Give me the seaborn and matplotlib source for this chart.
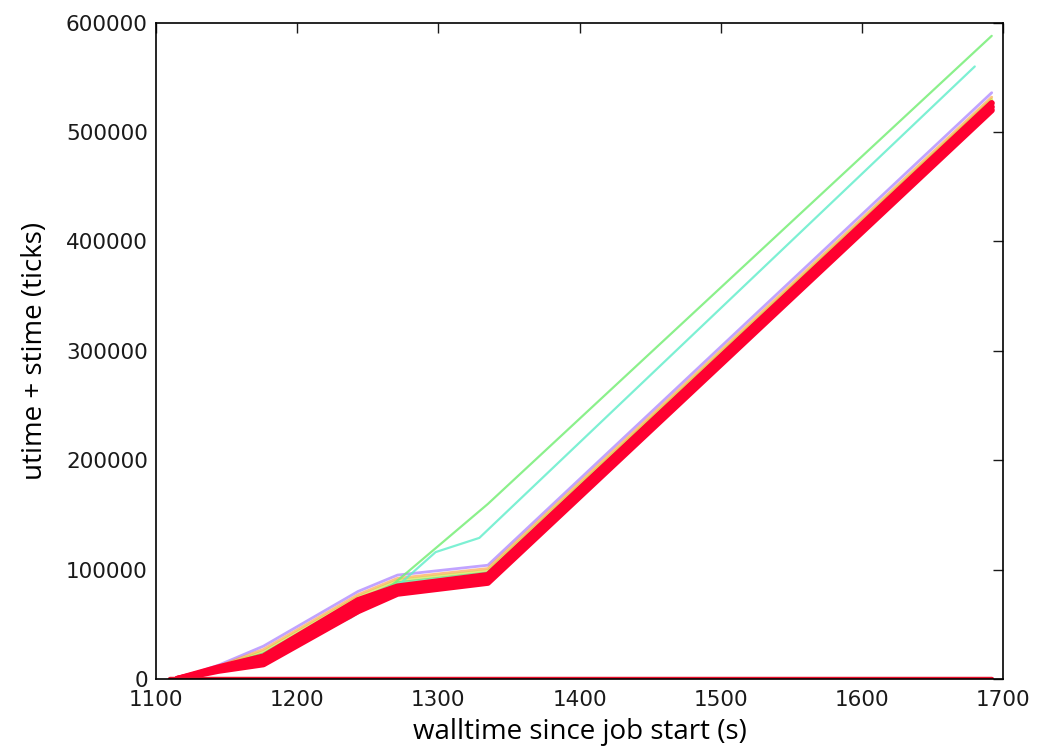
import matplotlib
matplotlib.use("Agg")
import matplotlib.pyplot as plt
import seaborn as sns

# ─────────────────────────────────────────────
# Data
# ─────────────────────────────────────────────

times = [1115, 1144, 1176, 1243, 1271, 1335, 1692]

# ticks per process (utime + stime), one list per traced process
proc_purple = [0, 12500, 30000, 80000, 95000, 104000, 536000]
proc_orange = [0, 11500, 27000, 77000, 92000, 101000, 532000]
proc_yellow = [0, 11000, 25000, 75000, 90000, 99000, 530000]
proc_green  = [0, 10500, 23000, 72000, 88000, 97000, 528000]
proc_blue   = [0, 8000, 15000, 64000, 80000, 90000, 522000]
red_hi      = [0, 10500, 20500, 72000, 84500, 95000, 526500]
red_mid     = [0, 9000, 17000, 67000, 81000, 91000, 523000]
red_lo      = [0, 7500, 13500, 62000, 78000, 88000, 520000]

# the two processes that ran away from the pack
fast_times  = [1115, 1144, 1176, 1243, 1271, 1335, 1692]
fast_green  = [0, 9000, 19000, 60000, 90000, 160000, 588000]
cyan_times  = [1115, 1144, 1176, 1238, 1271, 1298, 1329, 1680]
fast_cyan   = [0, 9000, 18000, 56000, 85000, 116000, 129000, 560000]

# idle processes that never got cpu time
idle_times  = [1110, 1692]
idle_ticks  = [0, 0]

x_ticks = [1100, 1200, 1300, 1400, 1500, 1600, 1700]
y_ticks = [0, 100000, 200000, 300000, 400000, 500000, 600000]

# ─────────────────────────────────────────────
# Plot
# ─────────────────────────────────────────────

sns.set_style("white")
plt.rcParams["font.family"] = ["DejaVu Sans"]

fig = plt.figure(figsize=(10.41, 7.5), dpi=100)
ax = fig.add_axes([0.150, 0.0947, 0.8135, 0.875])

for vals, col in [(proc_blue, "#3344ff"), (proc_purple, "#9966ff"),
                  (proc_orange, "#ff9933"), (proc_yellow, "#ccdd33"),
                  (proc_green, "#33dd77")]:
    sns.lineplot(x=times, y=vals, color=col, lw=2, alpha=0.6, ax=ax)

sns.lineplot(x=fast_times, y=fast_green, color="#77ee77", lw=1.6, alpha=0.85, ax=ax)
sns.lineplot(x=cyan_times, y=fast_cyan, color="#66eecc", lw=1.6, alpha=0.85, ax=ax)

for vals in [red_hi, red_mid, red_lo]:
    sns.lineplot(x=times, y=vals, color="#ff0030", lw=4.5, ax=ax)

sns.lineplot(x=idle_times, y=idle_ticks, color="#e8102c", lw=3.2, ax=ax)

ax.set_xlim(1100, 1700)
ax.set_ylim(0, 600000)
ax.set_xticks(x_ticks)
ax.set_yticks(y_ticks)
ax.tick_params(direction="in", length=7, width=1, top=True, right=True,
               labelsize=15.5, colors="#1a1a1a", pad=6)
ax.tick_params(axis="x", pad=8)
for sp in ax.spines.values():
    sp.set_color("black")
    sp.set_linewidth(1.2)

ax.set_xlabel("walltime since job start (s)", family="Open Sans", fontsize=20,
              color="black", labelpad=6)
ax.set_ylabel("utime + stime (ticks)", family="Open Sans", fontsize=20,
              color="black", labelpad=12)

fig.savefig("out.png", dpi=100)
plt.close()
